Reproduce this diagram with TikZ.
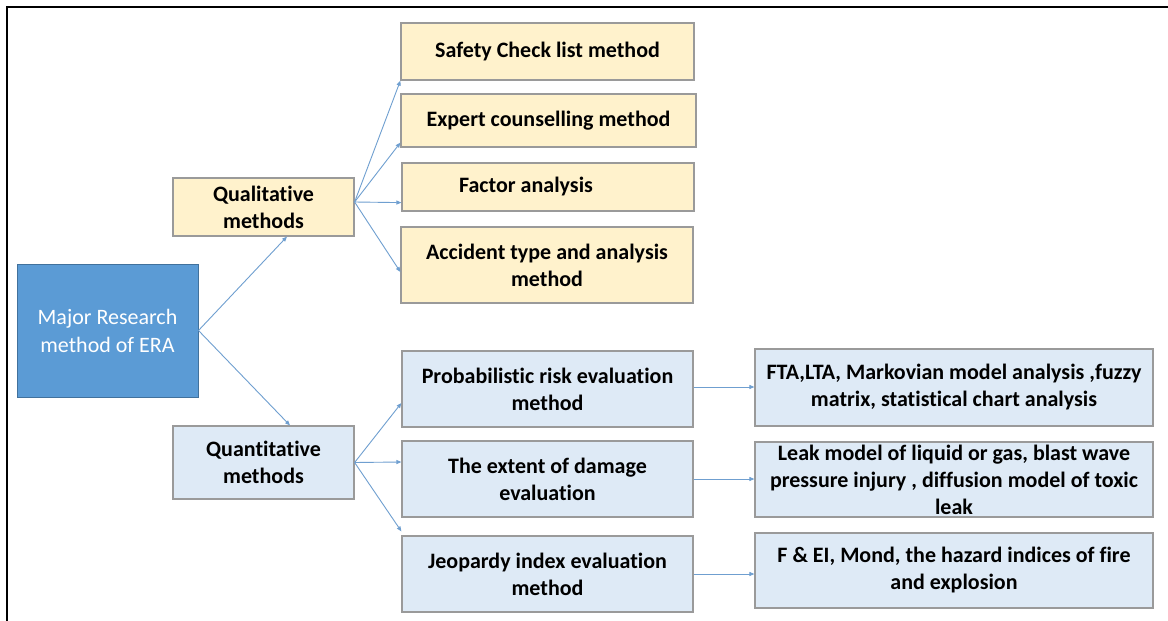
\documentclass[tikz,border=0pt]{standalone}
\usepackage{fontspec}
\setmainfont{Carlito}[RawFeature={-liga}]
\usetikzlibrary{arrows.meta}
\definecolor{mainblue}{HTML}{5B9BD5}
\definecolor{mainedge}{HTML}{41719C}
\definecolor{yfill}{HTML}{FFF2CC}
\definecolor{bfill}{HTML}{DEEAF6}
\definecolor{edgegray}{HTML}{9A9A9A}
\definecolor{arrowc}{HTML}{6F9FD0}
\tikzset{
  box/.style={draw=edgegray, line width=1.2pt, inner sep=0pt, align=center,
    font=\fontsize{22}{27}\selectfont\bfseries, text=black},
  ybox/.style={box, fill=yfill},
  bbox/.style={box, fill=bfill},
  mainbox/.style={draw=mainedge, line width=1pt, fill=mainblue, inner sep=0pt, align=center,
    font=\fontsize{22}{28}\selectfont, text=white},
  conn/.style={draw=arrowc, line width=0.9pt, -{Triangle[length=5pt,width=4pt]}},
  frameline/.style={draw=black, line width=1.5pt}
}
\begin{document}
\begin{tikzpicture}[x=1pt,y=-1pt]
\useasboundingbox (0,0) rectangle (1168,621);
\fill[white] (0,0) rectangle (1168,621);
\coordinate (tl) at (7,7);
\coordinate (tr) at (1168,7);
\coordinate (bl) at (7,621);
\draw[frameline] (tr) -- (tl) -- (bl);

\node[mainbox, minimum width=181pt, minimum height=133pt] (major) at (107.5,330.5) {Major Research\\method of ERA};
\node[ybox, minimum width=181pt, minimum height=58pt] (qual) at (263.5,207) {Qualitative\\methods};
\node[bbox, minimum width=181pt, minimum height=73pt] (quant) at (263.5,462.5) {Quantitative\\methods};

\node[ybox, minimum width=293pt, minimum height=57pt] (safety) at (547.5,51.5) {Safety Check list method};
\node[ybox, minimum width=295pt, minimum height=53pt] (expert) at (548.5,120.5) {Expert counselling method};
\node[ybox, minimum width=292pt, minimum height=48pt] (factor) at (548,187) {Factor analysis\hspace*{44pt}};
\node[ybox, minimum width=292pt, minimum height=76pt] (accident) at (547,265) {Accident type and analysis\\method};

\node[bbox, minimum width=291pt, minimum height=76pt] (prob) at (547.5,389) {Probabilistic risk evaluation\\method};
\node[bbox, minimum width=291pt, minimum height=76pt] (extent) at (547.5,479) {The extent of damage\\evaluation};
\node[bbox, minimum width=291pt, minimum height=76pt] (jeop) at (547.5,574) {Jeopardy index evaluation\\method};

\node[bbox, minimum width=398pt, minimum height=77pt] (fta) at (954,387.5) {FTA,LTA, Markovian model analysis ,fuzzy\\matrix, statistical chart analysis};
\node[bbox, minimum width=398pt, minimum height=75pt] (leak) at (954,479.5) {Leak model of liquid or gas, blast wave\\pressure injury , diffusion model of toxic\\leak};
\node[bbox, minimum width=398pt, minimum height=75pt] (fei) at (954,570.5) {F \& EI, Mond, the hazard indices of fire\\and explosion};

\draw[conn] (major.east) -- ([xshift=23.5pt]qual.south);
\draw[conn] (major.east) -- ([xshift=26.5pt]quant.north);

\draw[conn] ([yshift=5pt]qual.east) -- (safety.south west);
\draw[conn] ([yshift=5pt]qual.east) -- ([yshift=5pt]expert.south west);
\draw[conn] ([yshift=5pt]qual.east) -- ([yshift=9pt]factor.south west);
\draw[conn] ([yshift=5pt]qual.east) -- ([yshift=-7pt]accident.west);

\draw[conn] (quant.east) -- ([yshift=-14pt]prob.west);
\draw[conn] (quant.east) -- ([yshift=17pt]extent.west);
\draw[conn] (quant.east) -- ([yshift=4pt]jeop.north west);

\draw[conn] ([yshift=2pt]prob.east) -- ([yshift=2pt]prob.east -| fta.west);
\draw[conn] (extent.east) -- (extent.east -| leak.west);
\draw[conn] (jeop.east) -- (jeop.east -| fei.west);
\end{tikzpicture}
\end{document}
